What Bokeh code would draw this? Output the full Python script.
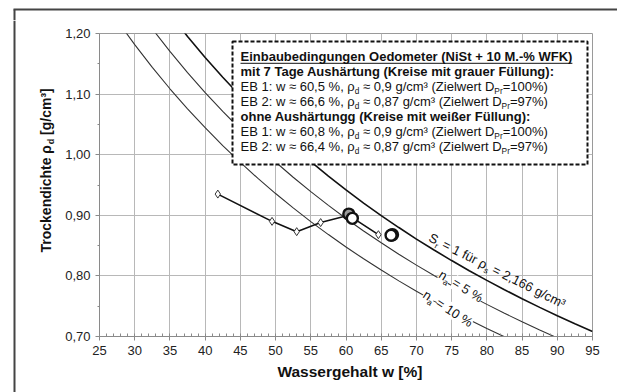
import math, struct, glob
from bokeh.plotting import figure
from bokeh.layouts import column, row
from bokeh.models import (Range1d, FixedTicker, CustomJSTickFormatter, Label,
                          BoxAnnotation, Arrow)
from bokeh.embed import file_html
from bokeh.resources import INLINE

# ---------------- data ----------------
sr_w = [35, 37.5, 40, 42.5, 45, 47.5, 50, 52.5, 55, 57.5, 60, 62.5, 65, 67.5,
        70, 72.5, 75, 77.5, 80, 82.5, 85, 87.5, 90, 92.5, 95]
sr_rho = [1.2320, 1.1952, 1.1605, 1.1278, 1.0969, 1.0676, 1.0399, 1.0135,
          0.9885, 0.9646, 0.9419, 0.9202, 0.8995, 0.8798, 0.8608, 0.8427,
          0.8253, 0.8086, 0.7926, 0.7772, 0.7624, 0.7481, 0.7344, 0.7212, 0.7084]
na5_w = [30, 32.5, 35, 37.5, 40, 42.5, 45, 47.5, 50, 52.5, 55, 57.5, 60, 62.5,
         65, 67.5, 70, 72.5, 75, 77.5, 80, 82.5, 85, 87.5, 90]
na5_rho = [1.2472, 1.2076, 1.1704, 1.1354, 1.1025, 1.0714, 1.0420, 1.0142,
           0.9879, 0.9628, 0.9390, 0.9164, 0.8948, 0.8742, 0.8546, 0.8358,
           0.8178, 0.8006, 0.7840, 0.7682, 0.7530, 0.7383, 0.7243, 0.7107, 0.6977]
na10_w = [27.5, 30, 32.5, 35, 37.5, 40, 42.5, 45, 47.5, 50, 52.5, 55, 57.5,
          60, 62.5, 65, 67.5, 70, 72.5, 75, 77.5, 80, 82.5, 85]
na10_rho = [1.2217, 1.1816, 1.1441, 1.1088, 1.0757, 1.0445, 1.0150, 0.9872,
            0.9608, 0.9359, 0.9122, 0.8896, 0.8682, 0.8477, 0.8282, 0.8096,
            0.7918, 0.7747, 0.7584, 0.7428, 0.7278, 0.7133, 0.6995, 0.6861]

test_w = [41.8, 49.5, 53.0, 56.4, 60.4, 64.6]
test_rho = [0.935, 0.890, 0.873, 0.888, 0.900, 0.868]
gray_w = [60.4, 66.6]
gray_rho = [0.902, 0.868]
white_w = [60.9, 66.4]
white_rho = [0.895, 0.867]

x_ticks = [25, 30, 35, 40, 45, 50, 55, 60, 65, 70, 75, 80, 85, 90, 95]
x_minor = list(range(25, 96))
y_ticks = [0.70, 0.80, 0.90, 1.00, 1.10, 1.20]
y_minor = [0.75, 0.85, 0.95, 1.05, 1.15]

box_lines = [
    [("Einbaubedingungen Oedometer (NiSt + 10 M.-% WFK)", "bold")],
    [("mit 7 Tage Aushärtung (Kreise mit grauer Füllung):", "bold")],
    [("EB 1: w ≈ 60,5 %, ρ", "normal"), ("d", "sub"), (" ≈ 0,9 g/cm³ (Zielwert D", "normal"), ("Pr", "sub"), ("=100%)", "normal")],
    [("EB 2: w ≈ 66,6 %, ρ", "normal"), ("d", "sub"), (" ≈ 0,87 g/cm³ (Zielwert D", "normal"), ("Pr", "sub"), ("=97%)", "normal")],
    [("ohne Aushärtungg (Kreise mit weißer Füllung):", "bold")],
    [("EB 1: w ≈ 60,8 %, ρ", "normal"), ("d", "sub"), (" ≈ 0,9 g/cm³ (Zielwert D", "normal"), ("Pr", "sub"), ("=100%)", "normal")],
    [("EB 2: w ≈ 66,4 %, ρ", "normal"), ("d", "sub"), (" ≈ 0,87 g/cm³ (Zielwert D", "normal"), ("Pr", "sub"), ("=97%)", "normal")],
]
x_title = [("Wassergehalt w [%]", "bold")]
y_title = [("Trockendichte ρ", "bold"), ("d", "subbold"), (" [g/cm³]", "bold")]
sr_label = [("S", "normal"), ("r", "sub"), (" = 1 für ρ", "normal"), ("s", "sub"),
            (" = 2,166 g/cm³", "normal")]
na5_label = [("n", "normal"), ("a", "sub"), (" = 5 %", "normal")]
na10_label = [("n", "normal"), ("a", "sub"), (" = 10 %", "normal")]


# ---------------- font metrics ----------------
def parse_font(path):
    d = open(path, "rb").read()
    n = struct.unpack(">H", d[4:6])[0]
    t = {}
    for i in range(n):
        tag, _, off, ln = struct.unpack(">4sIII", d[12 + 16 * i:28 + 16 * i])
        t[tag.decode("latin1")] = off
    upem = struct.unpack(">H", d[t["head"] + 18:t["head"] + 20])[0]
    nhm = struct.unpack(">H", d[t["hhea"] + 34:t["hhea"] + 36])[0]
    hm = t["hmtx"]
    adv = [struct.unpack(">H", d[hm + 4 * i:hm + 4 * i + 2])[0] for i in range(nhm)]
    c = t["cmap"]
    nsub = struct.unpack(">H", d[c + 2:c + 4])[0]
    cmap = {}
    for i in range(nsub):
        pid, eid, off = struct.unpack(">HHI", d[c + 4 + 8 * i:c + 12 + 8 * i])
        so = c + off
        fmt = struct.unpack(">H", d[so:so + 2])[0]
        if pid == 3 and eid == 1 and fmt == 4:
            segx2 = struct.unpack(">H", d[so + 6:so + 8])[0]
            seg = segx2 // 2
            ends = struct.unpack(">%dH" % seg, d[so + 14:so + 14 + segx2])
            starts = struct.unpack(">%dH" % seg, d[so + 16 + segx2:so + 16 + 2 * segx2])
            deltas = struct.unpack(">%dh" % seg, d[so + 16 + 2 * segx2:so + 16 + 3 * segx2])
            rp = so + 16 + 3 * segx2
            roffs = struct.unpack(">%dH" % seg, d[rp:rp + segx2])
            for k in range(seg):
                for ch in range(starts[k], ends[k] + 1):
                    if ch == 0xFFFF:
                        continue
                    if roffs[k] == 0:
                        g = (ch + deltas[k]) & 0xFFFF
                    else:
                        addr = rp + 2 * k + roffs[k] + 2 * (ch - starts[k])
                        g = struct.unpack(">H", d[addr:addr + 2])[0]
                        if g:
                            g = (g + deltas[k]) & 0xFFFF
                    cmap[ch] = g
            break

    def width(s, size):
        tot = 0
        for ch in s:
            g = cmap.get(ord(ch), 0)
            tot += adv[g] if g < len(adv) else adv[-1]
        return tot * size / upem
    return width


def find_font(name):
    for f in glob.glob("/usr/share/fonts/**/" + name, recursive=True):
        try:
            return parse_font(f)
        except Exception:
            pass
    return lambda s, size: 0.56 * size * len(s)


W_REG = find_font("LiberationSans-Regular.ttf")
W_BOLD = find_font("LiberationSans-Bold.ttf")
FONT = "Liberation Sans"
BASE_FIX = 0.40   # empirical baseline correction (fraction of font size)

# ---------------- geometry (global page pixels) ----------------
TOP_H = 20
LEFT_W = 60
FX0, FY0, FW, FH = 99, 33, 493, 303          # main plot frame
MAIN_BOTTOM = 25
X0, X1, Y0, Y1 = 25, 95, 0.70, 1.20


def blank(x0, x1, y0, y1):
    f = figure(width=x1 - x0, height=y1 - y0, x_range=Range1d(x0, x1),
               y_range=Range1d(y1, y0), x_axis_location=None, y_axis_location=None,
               min_border=0, output_backend="svg", toolbar_location=None)
    f.grid.visible = False
    f.outline_line_color = None
    f.background_fill_color = "white"
    f.border_fill_color = "white"
    return f


def ident(sx, sy):
    return sx, sy


def main_conv(sx, sy):
    return (X0 + (sx - FX0) * (X1 - X0) / FW, Y1 - (sy - FY0) * (Y1 - Y0) / FH)


def add_text(fig, conv, px, py, segments, angle_deg=0.0, size=13.0, bg=None,
             color="#111111"):
    th = math.radians(angle_deg)
    ax_, ay_ = math.cos(th), -math.sin(th)     # advance direction (screen)
    dx_, dy_ = math.sin(th), math.cos(th)      # "down" direction (screen)
    pos = 0.0
    for text, style in segments:
        bold = style in ("bold", "subbold")
        wf = W_BOLD if bold else W_REG
        if style.startswith("sub"):
            fs, shift = size * 0.64, size * 0.22
        else:
            fs, shift = size, 0.0
        stripped = text.lstrip(" ")
        pos += wf(" " * (len(text) - len(stripped)), fs)
        text = stripped
        shift -= BASE_FIX * fs
        sx = px + ax_ * pos + dx_ * shift
        sy = py + ay_ * pos + dy_ * shift
        x, y = conv(sx, sy)
        kw = {}
        if bg:
            kw["background_fill_color"] = bg
            kw["background_fill_alpha"] = 1.0
        fig.add_layout(Label(x=x, y=y, x_units="data", y_units="data", text=text, angle=th,
                             text_align="left", text_baseline="alphabetic", text_font=FONT,
                             text_font_size="%.1fpx" % fs,
                             text_font_style="bold" if bold else "normal",
                             text_color=color, **kw))
        pos += wf(text, fs)
    return pos


# ---------------- main figure ----------------
p = figure(frame_width=FW, frame_height=FH, min_border_left=FX0 - LEFT_W,
           min_border_right=617 - FX0 - FW, min_border_top=FY0 - TOP_H,
           min_border_bottom=MAIN_BOTTOM,
           x_range=Range1d(X0, X1), y_range=Range1d(Y0, Y1),
           output_backend="svg", toolbar_location=None)
p.background_fill_color = "white"
p.border_fill_color = "white"
p.outline_line_color = "#9a9a9a"
p.outline_line_width = 1

for ax in (p.xaxis[0], p.yaxis[0]):
    ax.axis_line_color = "#8a8a8a"
    ax.major_tick_line_color = "#8a8a8a"
    ax.minor_tick_line_color = "#8a8a8a"
    ax.major_label_text_font = FONT
    ax.major_label_text_font_size = "13px"
    ax.major_label_text_color = "#222222"
    ax.axis_label = None

p.xaxis.ticker = FixedTicker(ticks=x_ticks, minor_ticks=x_minor)
p.xaxis.formatter = CustomJSTickFormatter(code="return tick.toFixed(0);")
p.xaxis.major_tick_out = 4
p.xaxis.major_tick_in = 0
p.xaxis.minor_tick_out = 0
p.xaxis.minor_tick_in = 3
p.xaxis.major_label_standoff = 5

p.yaxis.ticker = FixedTicker(ticks=y_ticks, minor_ticks=y_minor)
p.yaxis.formatter = CustomJSTickFormatter(code="return tick.toFixed(2).replace('.', ',');")
p.yaxis.major_tick_out = 4
p.yaxis.major_tick_in = 0
p.yaxis.minor_tick_out = 2
p.yaxis.minor_tick_in = 0
p.yaxis.major_label_standoff = 5

p.xgrid.grid_line_color = "#b8b8b8"
p.ygrid.grid_line_color = "#b8b8b8"

# curves
p.line(na10_w, na10_rho, line_color="#333333", line_width=1.1)
p.line(na5_w, na5_rho, line_color="#333333", line_width=1.1)
p.line(sr_w, sr_rho, line_color="#111111", line_width=1.6)

# test series
p.line(test_w, test_rho, line_color="#111111", line_width=1.6)
p.scatter(test_w, test_rho, marker="diamond", size=8, fill_color="white",
          line_color="#333333", line_width=1.0)
p.scatter(gray_w, gray_rho, marker="circle", size=11, fill_color="#9a9a9a",
          line_color="#111111", line_width=2.4)
p.scatter(white_w, white_rho, marker="circle", size=11, fill_color="white",
          line_color="#111111", line_width=2.4)

# legend box
bl, bt = main_conv(232, 41)
br, bb = main_conv(587, 164)
p.add_layout(BoxAnnotation(left=bl, right=br, top=bt, bottom=bb, fill_color="white",
                           fill_alpha=1.0, line_color="#111111", line_alpha=1.0,
                           line_width=2, line_dash="4 2"))
for i, segs in enumerate(box_lines):
    base = 61.0 + 15 * i
    wline = add_text(p, main_conv, 240, base, segs, size=13)
    if i == 0:
        x0, y0 = main_conv(240, base + 1.8)
        x1, y1 = main_conv(240 + wline, base + 1.8)
        p.add_layout(Arrow(x_start=x0, y_start=y0, x_end=x1, y_end=y1, start=None,
                           end=None, line_color="#111111", line_width=1))

# curve labels
add_text(p, main_conv, 427, 241, sr_label, angle_deg=-26.6, size=13)
add_text(p, main_conv, 437, 277, na5_label, angle_deg=-32, size=13, bg="white")
add_text(p, main_conv, 421, 297, na10_label, angle_deg=-33, size=13, bg="white")

# ---------------- surrounding strips ----------------
top = blank(0, 617, 0, TOP_H)
top.line([13, 617], [9, 9], line_color="#444444", line_width=2)
top.line([14, 14], [9, TOP_H], line_color="#444444", line_width=2)

left = blank(0, LEFT_W, TOP_H, 392)
left.line([14, 14], [TOP_H, 392], line_color="#444444", line_width=2)
add_text(left, ident, 51, 252, y_title, angle_deg=90, size=14)

main_h = (FY0 - TOP_H) + FH + MAIN_BOTTOM
bottom = blank(LEFT_W, 617, TOP_H + main_h, 392)
add_text(bottom, ident, 261, 377, x_title, size=15.5)

layout = column(top, row(left, column(p, bottom, spacing=0), spacing=0), spacing=0)
open("out.html", "w").write(file_html(layout, INLINE))
